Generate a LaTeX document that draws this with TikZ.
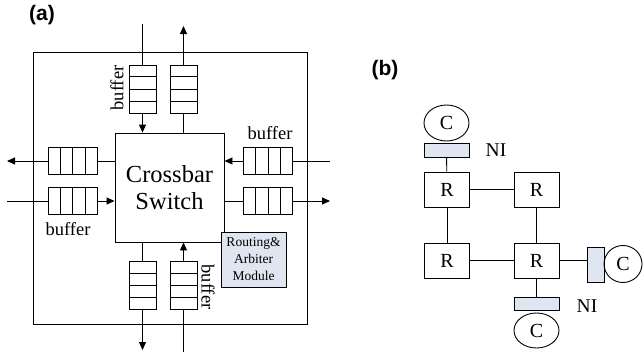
\documentclass[tikz,border=0pt]{standalone}
\usepackage{fontspec}
\setmainfont{Liberation Serif}
\newfontfamily\labfont{Liberation Sans}
\usetikzlibrary{arrows.meta,calc,shapes.geometric}
\definecolor{nifill}{HTML}{DFE6F1}
\tikzset{
  ln/.style={line width=0.9pt},
  arr/.style={ln,-{Triangle[length=8pt,width=7pt]}},
  hbuf/.style={draw,ln,minimum width=49pt,minimum height=27pt,inner sep=0pt},
  vbuf/.style={draw,ln,minimum width=27pt,minimum height=48pt,inner sep=0pt},
  rbox/.style={draw,ln,minimum width=45pt,minimum height=35pt,inner sep=0pt,font=\fontsize{20}{20}\selectfont},
  cnode/.style={draw,ln,ellipse,minimum width=45pt,minimum height=36pt,inner sep=0pt,font=\fontsize{20}{20}\selectfont},
  nibox/.style={draw,ln,fill=nifill,inner sep=0pt},
  txt/.style={inner sep=0pt,font=\fontsize{18.5}{18.5}\selectfont},
  plab/.style={inner sep=0pt,font=\labfont\bfseries\fontsize{21}{21}\selectfont}
}
\newcommand{\hcells}[1]{\foreach \i in {1,2,3}{\draw[ln] ($(#1.north west)!\i/4!(#1.north east)$) -- ($(#1.south west)!\i/4!(#1.south east)$);}}
\newcommand{\vcells}[1]{\foreach \i in {1,2,3}{\draw[ln] ($(#1.north west)!\i/4!(#1.south west)$) -- ($(#1.north east)!\i/4!(#1.south east)$);}}
\begin{document}
\begin{tikzpicture}[x=1pt,y=-1pt]
\useasboundingbox (0,0) rectangle (643,356);
% (a)
\node[plab] (la) at (42,15) {(a)};
\node[draw,ln,minimum width=274pt,minimum height=272pt,inner sep=0pt] (outer) at (170,188) {};
\node[draw,ln,minimum width=109pt,minimum height=109pt,inner sep=0pt,align=center,
  font=\fontsize{24.5}{27}\selectfont] (xbar) at (169.5,187.5) {Crossbar\\Switch};
% top buffers
\node[vbuf] (tin) at (142.5,89) {}; \vcells{tin}
\node[vbuf] (tout) at (183.5,89) {}; \vcells{tout}
% bottom buffers
\node[vbuf] (bout) at (142.5,285.5) {}; \vcells{bout}
\node[vbuf] (bin) at (183.5,285.5) {}; \vcells{bin}
% left buffers
\node[hbuf] (lout) at (72.5,161) {}; \hcells{lout}
\node[hbuf] (lin) at (72.5,201) {}; \hcells{lin}
% right buffers
\node[hbuf] (rin) at (268,161) {}; \hcells{rin}
\node[hbuf] (rout) at (268,201) {}; \hcells{rout}
% free ends
\coordinate (tinS) at (142.5,24);
\coordinate (toutE) at (183.5,26);
\coordinate (boutE) at (142.5,350);
\coordinate (binS) at (183.5,352);
\coordinate (loutE) at (7,161);
\coordinate (linS) at (7,201);
\coordinate (rinS) at (330,161);
\coordinate (routE) at (330,201);
% connectors
\draw[ln] (tinS) -- (tin.north);
\draw[arr] (tin.south) -- (tin.south |- xbar.north);
\draw[ln] (tout.south |- xbar.north) -- (tout.south);
\draw[arr] (tout.north) -- (toutE);
\draw[ln] (bout.north |- xbar.south) -- (bout.north);
\draw[arr] (bout.south) -- (boutE);
\draw[ln] (binS) -- (bin.south);
\draw[arr] (bin.north) -- (bin.north |- xbar.south);
\draw[ln] (lout.east -| xbar.west) -- (lout.east);
\draw[arr] (lout.west) -- (loutE);
\draw[ln] (linS) -- (lin.west);
\draw[arr] (lin.east) -- (lin.east -| xbar.west);
\draw[ln] (rinS) -- (rin.east);
\draw[arr] (rin.west) -- (rin.west -| xbar.east);
\draw[ln] (rout.west -| xbar.east) -- (rout.west);
\draw[arr] (rout.east) -- (routE);
% routing module
\node[draw,ln,fill=nifill,minimum width=65pt,minimum height=55pt,inner sep=0pt,align=center,
  font=\fontsize{13.5}{17}\selectfont] (rm) at (253.5,259.5) {Routing\&\\Arbiter\\Module};
% buffer labels
\node[txt,rotate=90] (bl1) at (117,88) {buffer};
\node[txt,rotate=-90] (bl2) at (208,287) {buffer};
\node[txt] (bl3) at (270,133) {buffer};
\node[txt] (bl4) at (68,229) {buffer};
% (b)
\node[plab] (lb) at (385,70) {(b)};
\node[cnode] (c1) at (446.5,123) {C};
\node[nibox,minimum width=45pt,minimum height=14pt] (ni1) at (446.5,150) {};
\node[txt,font=\fontsize{19.5}{19.5}\selectfont] (nil1) at (496,150) {NI};
\node[rbox] (r1) at (447,189.5) {R};
\node[rbox] (r2) at (536.5,189.5) {R};
\node[rbox] (r3) at (447,260.5) {R};
\node[rbox] (r4) at (536.5,260.5) {R};
\node[nibox,minimum width=17pt,minimum height=35pt] (ni2) at (595.5,264.5) {};
\node[cnode,minimum width=38pt,minimum height=37pt] (c2) at (623,264) {C};
\node[nibox,minimum width=45pt,minimum height=13pt] (ni3) at (536.5,303.5) {};
\node[txt,font=\fontsize{19.5}{19.5}\selectfont] (nil2) at (587,306) {NI};
\node[cnode,minimum height=35pt] (c3) at (536.5,330.5) {C};
\draw[ln] (ni1) -- (r1);
\draw[ln] (r1) -- (r2);
\draw[ln] (r1) -- (r3);
\draw[ln] (r2) -- (r4);
\draw[ln] (r3) -- (r4);
\draw[ln] (r4.east) -- (ni2.west |- r4.east);
\draw[ln] (r4) -- (ni3);
\end{tikzpicture}
\end{document}
